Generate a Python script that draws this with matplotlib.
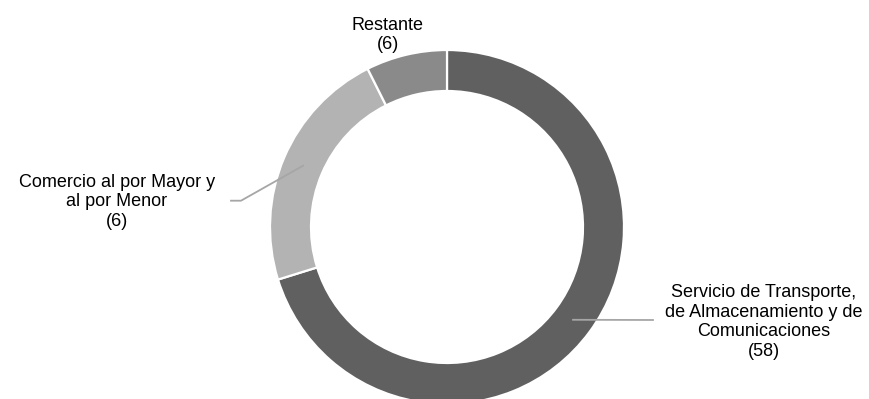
import numpy as np
import matplotlib
matplotlib.use("Agg")
import matplotlib.pyplot as plt

plt.rcParams['font.family'] = ['Liberation Sans', 'DejaVu Sans']

# Sectores y valores
labels = ["Servicio de Transporte,\nde Almacenamiento y de\nComunicaciones",
          "Comercio al por Mayor y\nal por Menor",
          "Restante"]
counts = [58, 6, 6]
shares = [70.2, 22.4, 7.4]
colors = ["#606060", "#b3b3b3", "#8a8a8a"]

fig = plt.figure(figsize=(8.7, 3.99), dpi=100)
ax = fig.add_axes([0, 0, 1, 1])

cx, cy, R = 447, -227, 177
wedges, _ = ax.pie(shares, colors=colors, startangle=90, counterclock=False,
                   radius=R, center=(cx, cy),
                   wedgeprops=dict(width=41, edgecolor="white", linewidth=1.6))
ax.set_xlim(0, 870)
ax.set_ylim(-399, 0)
ax.set_aspect("equal")
ax.axis("off")

def mid_point(w, r):
    a = np.deg2rad((w.theta1 + w.theta2) / 2)
    return cx + r * np.cos(a), cy + r * np.sin(a)

r_mid = R - 20.5
lc = "#a6a6a6"
fs = 13
ls = 1.18

# Servicio de Transporte
x0, y0 = mid_point(wedges[0], r_mid)
ax.plot([x0, 653], [y0, -320], color=lc, lw=1.3)
ax.text(764, -322, labels[0] + "\n(%d)" % counts[0], ha="center", va="center",
        fontsize=fs, linespacing=ls, color="#000000")

# Comercio
x1, y1 = mid_point(wedges[1], r_mid)
ax.plot([x1, 241, 231], [y1, -200.7, -200.7], color=lc, lw=1.3)
ax.text(117, -202, labels[1] + "\n(%d)" % counts[1], ha="center", va="center",
        fontsize=fs, linespacing=ls, color="#000000")

# Restante
ax.text(388, -35, labels[2] + "\n(%d)" % counts[2], ha="center", va="center",
        fontsize=fs, linespacing=ls, color="#000000")

fig.savefig("out.png", dpi=100, facecolor="white")
